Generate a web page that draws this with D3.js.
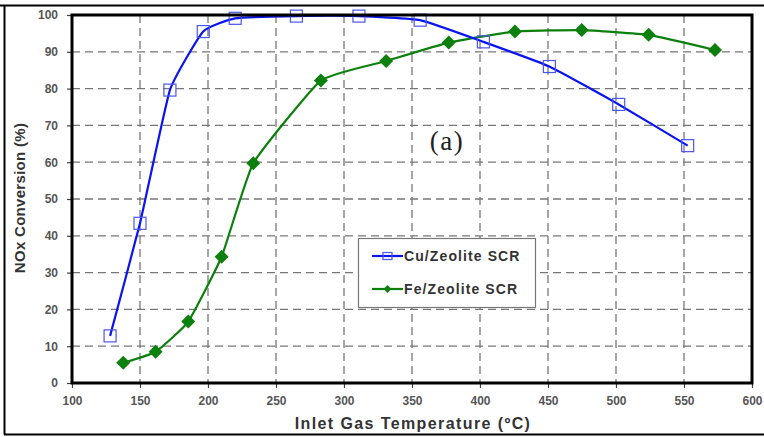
<!DOCTYPE html>
<html><head><meta charset="utf-8">
<script src="https://cdn.jsdelivr.net/npm/d3@7"></script>
<style>body{margin:0;background:#fff}svg{display:block}</style>
</head><body>
<script>
const cuTemp = [128, 150, 172, 196.5, 220, 265, 311, 356, 402.5, 451, 502, 552.7];
const cuConv = [12.8, 43.4, 79.6, 95.5, 99.1, 99.7, 99.7, 98.6, 92.7, 86, 75.7, 64.5];
const feTemp = [137.7, 161.5, 185.5, 210, 233.3, 283, 331, 377, 425.7, 474.8, 524, 572.8];
const feConv = [5.5, 8.5, 16.7, 34.3, 59.7, 82.2, 87.5, 92.5, 95.5, 95.9, 94.6, 90.5];
const xTicks = [100, 150, 200, 250, 300, 350, 400, 450, 500, 550, 600];
const yTicks = [0, 10, 20, 30, 40, 50, 60, 70, 80, 90, 100];
const seriesNames = ["Cu/Zeolite SCR", "Fe/Zeolite SCR"];
const seriesColors = ["#0a14f0", "#0c800c"];

const W = 764, H = 437;
const L = 72, T = 15, R = 752, B = 383;
const svg = d3.select("body").append("svg").attr("width", W).attr("height", H);

// outer frame
svg.append("path").attr("d", `M0,5.5 H764 M4.5,5 V434.5 M4,434.5 H764`)
  .attr("stroke", "#000").attr("stroke-width", 2).attr("fill", "none");

const x = d3.scaleLinear().domain([100, 600]).range([L, R]);
const y = d3.scaleLinear().domain([0, 100]).range([B, T]);

// grid
const grid = svg.append("g").attr("stroke", "#777").attr("stroke-width", 1.3).attr("stroke-dasharray", "8,5");
grid.selectAll("line.v").data(xTicks.slice(1, -1)).join("line")
  .attr("x1", d => x(d)).attr("x2", d => x(d)).attr("y1", T).attr("y2", B);
grid.selectAll("line.h").data(yTicks.slice(1, -1)).join("line")
  .attr("x1", L).attr("x2", R).attr("y1", d => y(d)).attr("y2", d => y(d));

// axes
const font = "'Liberation Sans', Arial, sans-serif";
const xAxis = svg.append("g").attr("transform", `translate(0,${B})`)
  .call(d3.axisBottom(x).tickValues(xTicks).tickSize(5).tickPadding(8).tickFormat(d3.format("d")));
const yAxis = svg.append("g").attr("transform", `translate(${L},0)`)
  .call(d3.axisLeft(y).tickValues(yTicks).tickSize(5).tickPadding(9).tickFormat(d3.format("d")));
[xAxis, yAxis].forEach(a => {
  a.select(".domain").remove();
  a.selectAll(".tick line").attr("stroke", "#444").attr("stroke-width", 1.2);
  a.selectAll("text").attr("fill", "#555").attr("font-family", font).attr("font-weight", "bold").attr("font-size", 12);
});

// lines
const line = d3.line().x(d => x(d[0])).y(d => y(d[1])).curve(d3.curveCardinal.tension(0.6));
const cu = cuTemp.map((t, i) => [t, cuConv[i]]);
const fe = feTemp.map((t, i) => [t, feConv[i]]);

svg.append("path").datum(fe).attr("d", line).attr("fill", "none")
  .attr("stroke", seriesColors[1]).attr("stroke-width", 2.2);
svg.selectAll("path.fe").data(fe).join("path").attr("class", "fe")
  .attr("transform", d => `translate(${x(d[0])},${y(d[1])})`)
  .attr("d", "M0,-7 L7,0 L0,7 L-7,0 Z").attr("fill", seriesColors[1]);

svg.append("path").datum(cu).attr("d", line).attr("fill", "none")
  .attr("stroke", seriesColors[0]).attr("stroke-width", 2.2);
svg.selectAll("rect.cu").data(cu).join("rect").attr("class", "cu")
  .attr("x", d => x(d[0]) - 6).attr("y", d => y(d[1]) - 6).attr("width", 12).attr("height", 12)
  .attr("fill", "none").attr("stroke", "#4a55f0").attr("stroke-width", 1.2);

// plot border
svg.append("rect").attr("x", L).attr("y", T).attr("width", R - L).attr("height", B - T)
  .attr("fill", "none").attr("stroke", "#000").attr("stroke-width", 3);

// (a) label
svg.append("text").attr("x", 447).attr("y", 150).attr("text-anchor", "middle")
  .attr("font-family", "'Liberation Serif', 'Times New Roman', serif").attr("font-size", 27)
  .attr("letter-spacing", 1.5).attr("fill", "#222").text("(a)");

// legend
const lg = svg.append("g");
lg.append("rect").attr("x", 358.5).attr("y", 238.5).attr("width", 177).attr("height", 69)
  .attr("fill", "#fff").attr("stroke", "#777").attr("stroke-width", 1.2);
seriesNames.forEach((n, i) => {
  const yy = 256 + i * 33;
  lg.append("line").attr("x1", 372).attr("x2", 403).attr("y1", yy).attr("y2", yy)
    .attr("stroke", seriesColors[i]).attr("stroke-width", 2.2);
  if (i === 0) lg.append("rect").attr("x", 383).attr("y", yy - 3.5).attr("width", 9).attr("height", 7)
    .attr("fill", "none").attr("stroke", "#4a55f0").attr("stroke-width", 1.2);
  else lg.append("path").attr("transform", `translate(387.5,${yy})`).attr("d", "M0,-4 L4,0 L0,4 L-4,0 Z").attr("fill", seriesColors[1]);
  lg.append("text").attr("x", 404).attr("y", yy + 5).attr("font-family", font).attr("font-weight", "bold")
    .attr("font-size", 14).attr("letter-spacing", 1.1).attr("fill", "#333").text(n);
});

// axis titles
svg.append("text").attr("x", 413).attr("y", 429).attr("text-anchor", "middle")
  .attr("font-family", font).attr("font-weight", "bold").attr("font-size", 16).attr("letter-spacing", 1.4).attr("fill", "#333")
  .text("Inlet Gas Temperature (ºC)");
svg.append("text").attr("transform", "translate(25,198) rotate(-90)").attr("text-anchor", "middle")
  .attr("font-family", font).attr("font-weight", "bold").attr("font-size", 15).attr("letter-spacing", 0.3).attr("fill", "#333")
  .text("NOx Conversion (%)");
</script>
</body></html>
